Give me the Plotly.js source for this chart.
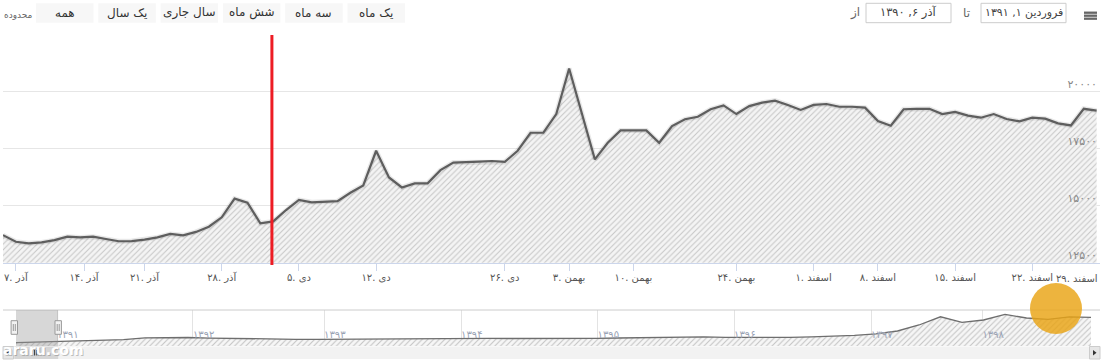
<!DOCTYPE html>
<html><head><meta charset="utf-8">
<script src="https://cdn.plot.ly/plotly-3.0.1.min.js"></script>
<style>html,body{margin:0;padding:0;background:#fff;overflow:hidden}#chart{width:1103px;height:361px}</style>
</head><body><div id="chart"></div>
<script>
// ---- data ----
const prices = [13710,13420,13350,13390,13490,13640,13610,13640,13540,13440,
  13450,13510,13610,13760,13700,13850,14080,14490,15310,15130,
  14230,14310,14810,15250,15150,15190,15200,15570,15890,17410,
  16240,15800,15980,15980,16560,16890,16900,16930,16960,16920,
  17410,18200,18200,19020,21020,19030,17030,17760,18300,18300,
  18300,17760,18490,18790,18900,19230,19400,19020,19370,19520,
  19610,19420,19200,19420,19460,19340,19340,19300,18710,18510,
  19230,19250,19250,19020,19110,18950,18860,19020,18800,18700,
  18860,18820,18610,18520,19250,19170];
const tickPos = [1,6.3,11,17,23,29,39,44,49,57,63,68,74,80,85];
const tickLabels = ['۷. آذر','۱۴. آذر','۲۱. آذر','۲۸. آذر','۵. دی','۱۲. دی','۲۶. دی',
  '۳. بهمن','۱۰. بهمن','۲۴. بهمن','۱. اسفند','۸. اسفند','۱۵. اسفند','۲۲. اسفند','۲۹. اسفند'];
const yTickVals = [12500,15000,17500,20000];
const yTickText = ['۱۲۵۰۰','۱۵۰۰۰','۱۷۵۰۰','۲۰۰۰۰'];
const navValues = [16500,19000,21500,24000,26000,32000,41000,42000,42500,39500,
  37500,36000,34500,33500,33500,34000,35000,36000,37500,39500,
  39000,38500,38000,37500,37000,37500,38000,38500,40000,42000,
  43500,45000,46000,43000,42000,42500,43500,46000,48500,53000,
  61000,75000,105000,146000,118500,130000,158000,140000,133000,145500,143500];
const navYearPos = [1.91,8.23,14.33,20.7,27.05,33.4,39.77,44.95];
const navYearLabels = ['۱۳۹۱','۱۳۹۲','۱۳۹۳','۱۳۹۴','۱۳۹۵','۱۳۹۶','۱۳۹۷','۱۳۹۸'];
const rangeButtons = ['همه','یک سال','سال جاری','شش ماه','سه ماه','یک ماه'];
const rangeLabel = 'محدوده';
const fromLabel = 'از', toLabel = 'تا';
const rangeFrom = 'آذر ۶, ۱۳۹۰';
const rangeTo = 'فروردین ۱, ۱۳۹۱';
const markerIndex = 20.9;
const navSelEnd = 1.96;

// ---- layout helpers (pixel -> paper) ----
const L = 3, R = 3, T = 35, B = 2, W = 1103, H = 361;
const PW = W - L - R, PH = H - T - B;
const px = x => (x - L) / PW;
const py = y => (H - B - y) / PH;
const FONT = 'Tahoma, "DejaVu Sans", sans-serif';

const idx = prices.map((_, i) => i);
const navIdx = navValues.map((_, i) => i);

const traces = [
  {x: idx, y: prices, type: 'scatter', mode: 'lines', fill: 'tozeroy',
   fillpattern: {shape: '/', fgcolor: '#c6c6c6', bgcolor: '#f4f4f4', size: 4, solidity: 0.25},
   line: {width: 0, color: 'rgba(0,0,0,0)'}, hoverinfo: 'skip', showlegend: false},
  {x: idx, y: prices, type: 'scatter', mode: 'lines', line: {width: 5, color: 'rgba(0,0,0,0.09)'},
   hoverinfo: 'skip', showlegend: false},
  {x: idx, y: prices, type: 'scatter', mode: 'lines', line: {width: 2.2, color: '#5e5e5e'},
   showlegend: false},
  {x: navIdx, y: navValues, xaxis: 'x2', yaxis: 'y2', type: 'scatter', mode: 'lines', fill: 'tozeroy',
   fillpattern: {shape: '/', fgcolor: '#c4c4c4', bgcolor: '#f6f6f6', size: 4, solidity: 0.25},
   line: {width: 1.3, color: '#6e6e6e'}, hoverinfo: 'skip', showlegend: false}
];

const shapes = [];
const annotations = [];
function rectPx(x0, y0, x1, y1, fill, line, lw, layer) {
  shapes.push({type: 'rect', xref: 'paper', yref: 'paper', x0: px(x0), x1: px(x1), y0: py(y1), y1: py(y0),
    fillcolor: fill, line: {color: line || fill, width: lw === undefined ? 0 : lw}, layer: layer || 'above'});
}
function linePx(x0, y0, x1, y1, color, w) {
  shapes.push({type: 'line', xref: 'paper', yref: 'paper', x0: px(x0), x1: px(x1), y0: py(y0), y1: py(y1),
    line: {color: color, width: w}, layer: 'above'});
}
function textPx(x, y, text, size, color, opts) {
  annotations.push(Object.assign({xref: 'paper', yref: 'paper', x: px(x), y: py(y), text: text, showarrow: false,
    xanchor: 'center', yanchor: 'middle', font: {family: FONT, size: size, color: color}}, opts || {}));
}

// toolbar: range buttons
textPx(18, 15, rangeLabel, 9, '#666');
rangeButtons.forEach((b, i) => {
  const x0 = 36 + i * 62.3;
  rectPx(x0, 3.3, x0 + 57.5, 22.7, '#f7f7f7', '#f7f7f7', 0);
  textPx(x0 + 28.75, 13, b, 12, '#333');
});
// date inputs
textPx(855, 13, fromLabel, 12, '#666');
rectPx(866, 3.3, 951, 22.7, '#ffffff', '#cccccc', 1);
textPx(908.5, 13, rangeFrom, 11.5, '#444');
textPx(966, 13, toLabel, 12, '#666');
rectPx(981, 3.3, 1066, 22.7, '#ffffff', '#cccccc', 1);
textPx(1023.5, 13, rangeTo, 11, '#444');
// menu icon
[12.7, 15.7, 18.7].forEach(y => linePx(1084, y, 1097, y, '#666', 2.3));

// red marker line
shapes.push({type: 'line', xref: 'x', yref: 'paper', x0: markerIndex, x1: markerIndex, y0: py(265), y1: 1,
  line: {color: '#ed1c24', width: 3}, layer: 'above'});

// navigator decorations
linePx(3, 310, 1100, 310, '#cccccc', 1);
shapes.push({type: 'rect', xref: 'x2', yref: 'paper', x0: -0.08, x1: navSelEnd, y0: py(346), y1: py(310),
  fillcolor: 'rgba(150,150,150,0.38)', line: {width: 0}, layer: 'above'});
// scrollbar
rectPx(3, 346.5, 1100, 359, '#f2f2f2', '#f2f2f2', 0);
rectPx(14.3, 346.5, 58.2, 359, '#d6d6d6', '#d6d6d6', 0);
[34.5, 36.3, 38.1].forEach(x => linePx(x, 350, x, 355.5, '#444', 1));
rectPx(3, 346.5, 13.5, 359, '#e6e6e6', '#cccccc', 1);
rectPx(1089.5, 346.5, 1100, 359, '#e6e6e6', '#cccccc', 1);
shapes.push({type: 'path', xref: 'paper', yref: 'paper',
  path: `M ${px(6.5)} ${py(352.7)} L ${px(10)} ${py(350)} L ${px(10)} ${py(355.4)} Z`,
  fillcolor: '#333', line: {width: 0}, layer: 'above'});
shapes.push({type: 'path', xref: 'paper', yref: 'paper',
  path: `M ${px(1096.5)} ${py(352.7)} L ${px(1093)} ${py(350)} L ${px(1093)} ${py(355.4)} Z`,
  fillcolor: '#333', line: {width: 0}, layer: 'above'});
// handles
[14.3, 58.2].forEach(cx => {
  rectPx(cx - 3.2, 320.7, cx + 3.2, 334.3, '#f2f2f2', '#999999', 1);
  linePx(cx - 1, 324, cx - 1, 331, '#999', 1);
  linePx(cx + 1, 324, cx + 1, 331, '#999', 1);
});

// watermark
textPx(44, 351, 'araru.com', 14, 'rgba(90,90,90,0.35)', {font: {family: 'DejaVu Sans', size: 14, color: 'rgba(90,90,90,0.35)', weight: 'bold'}});
textPx(43, 350, 'araru.com', 14, '#ffffff', {font: {family: 'DejaVu Sans', size: 14, color: '#ffffff', weight: 'bold'}});
shapes.push({type: 'circle', xref: 'paper', yref: 'paper', x0: px(1030), x1: px(1082), y0: py(334), y1: py(283),
  fillcolor: '#e9a413', opacity: 0.82, line: {width: 0}, layer: 'above'});

// last x label kept inside the plot edge
const tickTextShown = tickLabels.slice(0, -1).concat(['']);
annotations.push({xref: 'paper', yref: 'paper', x: 1, y: py(278), xanchor: 'right', yanchor: 'middle',
  text: tickLabels[tickLabels.length - 1], showarrow: false, font: {family: FONT, size: 10, color: '#555'}});

const layout = {
  width: W, height: H,
  margin: {l: L, r: R, t: T, b: B, pad: 0},
  paper_bgcolor: '#ffffff', plot_bgcolor: 'rgba(0,0,0,0)',
  showlegend: false,
  xaxis: {domain: [0, 1], range: [0, 85.26], tickvals: tickPos, ticktext: tickTextShown,
    ticks: 'outside', ticklen: 7, tickcolor: '#ccd6eb', tickwidth: 1, ticklabelstandoff: -2,
    showline: true, linecolor: '#ccd6eb', linewidth: 1, showgrid: false, zeroline: false,
    tickfont: {family: FONT, size: 10, color: '#555'}, anchor: 'y', fixedrange: true},
  yaxis: {domain: [py(262.7), 1], range: [12500, 22487], side: 'right',
    tickvals: yTickVals, ticktext: yTickText, ticklabelposition: 'inside top', ticks: '',
    showgrid: true, gridcolor: '#e6e6e6', gridwidth: 1, zeroline: false, showline: false,
    tickfont: {family: FONT, size: 11, color: '#888'}, anchor: 'x', fixedrange: true},
  xaxis2: {domain: [px(16), px(1091)], range: [0, 50], anchor: 'y2',
    tickvals: navYearPos, ticktext: navYearLabels, ticklabelposition: 'inside right', ticks: '',
    showgrid: true, gridcolor: '#e3e3e3', zeroline: false, showline: false,
    tickfont: {family: FONT, size: 10, color: '#9aa3b5'}, fixedrange: true},
  yaxis2: {domain: [py(346), py(310)], range: [0, 180000], anchor: 'x2', visible: false, fixedrange: true},
  shapes: shapes,
  annotations: annotations
};

Plotly.newPlot('chart', traces, layout, {staticPlot: true, displayModeBar: false});
</script></body></html>
